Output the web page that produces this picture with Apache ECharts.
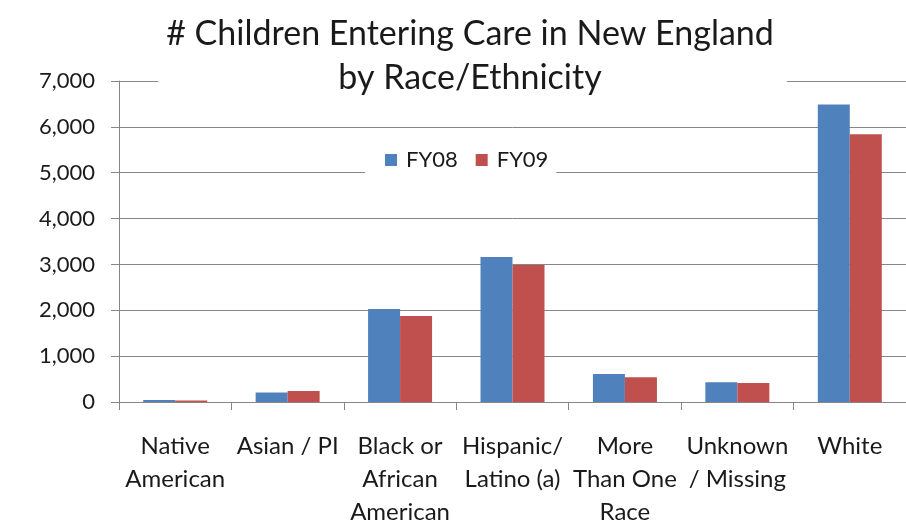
<!DOCTYPE html>
<html>
<head>
<meta charset="utf-8">
<script src="https://cdn.jsdelivr.net/npm/echarts@6/dist/echarts.min.js"></script>
<style>
  html, body { margin: 0; padding: 0; background: #fff; }
  #chart { width: 906px; height: 520px; }
</style>
</head>
<body>
<div id="chart"></div>
<script>
var categories = ['Native\nAmerican', 'Asian / PI', 'Black or\nAfrican\nAmerican', 'Hispanic/\nLatino (a)', 'More\nThan One\nRace', 'Unknown\n/ Missing', 'White'];
var fy08 = [45, 205, 2030, 3160, 610, 430, 6490];
var fy09 = [30, 240, 1875, 2985, 540, 415, 5840];
var seriesNames = ['FY08', 'FY09'];

(function() {
  var font = 'Lato, "Open Sans", sans-serif';
  var ink = '#1a1a1a';
  var rule = '#868686';

  var chart = echarts.init(document.getElementById('chart'), null, { renderer: 'canvas' });
  chart.setOption({
    animation: false,
    backgroundColor: '#fff',
    title: {
      text: '# Children Entering Care in New England\nby Race/Ethnicity',
      left: 462,
      top: 8,
      textAlign: 'center',
      padding: [4, 13, 4, 8],
      backgroundColor: '#fff',
      textStyle: {
        fontFamily: font,
        fontSize: 34,
        fontWeight: 'normal',
        color: ink,
        lineHeight: 44
      }
    },
    legend: {
      data: seriesNames,
      left: 365,
      top: 143,
      padding: [6, 8, 6, 20],
      backgroundColor: '#fff',
      itemWidth: 12,
      itemHeight: 12,
      itemGap: 18,
      icon: 'rect',
      textStyle: { fontFamily: font, fontSize: 22, color: ink, padding: [0, 0, 0, 4] }
    },
    grid: { left: 119, right: 0, top: 81, bottom: 118, outerBoundsMode: 'none', containLabel: false },
    xAxis: {
      type: 'category',
      data: categories,
      axisLine: { lineStyle: { color: rule, width: 1 } },
      axisTick: { show: true, length: 8, lineStyle: { color: rule } },
      axisLabel: {
        color: ink,
        fontFamily: font,
        fontSize: 24,
        lineHeight: 33,
        margin: 28,
        interval: 0
      }
    },
    yAxis: {
      type: 'value',
      min: 0,
      max: 7000,
      interval: 1000,
      axisLine: { show: true, lineStyle: { color: rule, width: 1 } },
      axisTick: { show: true, length: 8, lineStyle: { color: rule } },
      axisLabel: {
        color: ink,
        fontFamily: font,
        fontSize: 22,
        margin: 24,
        formatter: function(v) { return v.toLocaleString('en-US'); }
      },
      splitLine: { show: true, lineStyle: { color: rule, width: 1 } }
    },
    series: [
      {
        name: seriesNames[0],
        type: 'bar',
        data: fy08,
        barWidth: 32,
        barGap: '0%',
        itemStyle: { color: '#4F81BD' }
      },
      {
        name: seriesNames[1],
        type: 'bar',
        data: fy09,
        barWidth: 32,
        barGap: '0%',
        itemStyle: { color: '#C0504D' }
      }
    ]
  });
  window.addEventListener('resize', function() { chart.resize(); });
})();
</script>
</body>
</html>
